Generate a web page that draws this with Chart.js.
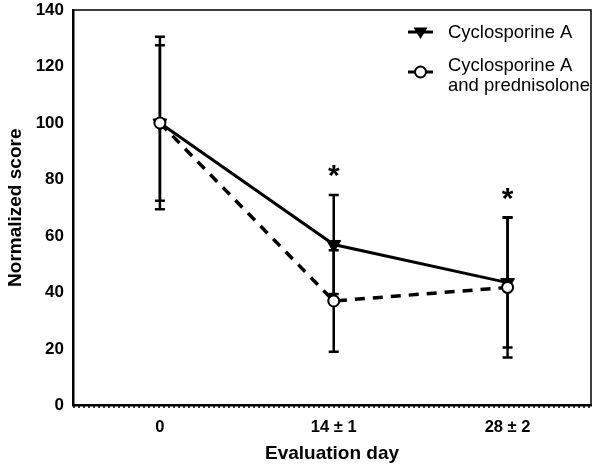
<!DOCTYPE html>
<html><head><meta charset="utf-8">
<script src="https://cdn.jsdelivr.net/npm/chart.js@4/dist/chart.umd.min.js"></script>
<style>html,body{margin:0;padding:0;background:#fff}#wrap{width:600px;height:469px}</style>
</head><body><div id="wrap"><canvas id="c" width="600" height="469"></canvas></div>
<script>
const categories = ["0", "14 \u00b1 1", "28 \u00b1 2"];
const seriesNames = ["Cyclosporine A", "Cyclosporine A|and prednisolone"];
const csaMean = [100, 57, 43.5];
const csaSD = [30.5, 17.5, 23];
const csaPredMean = [100, 37, 41.8];
const csaPredSD = [27.5, 18, 24.8];
const significant = [false, true, true];
const yTicks = [0, 20, 40, 60, 80, 100, 120, 140];

const F = "'Liberation Sans', Arial, Helvetica, sans-serif";

const errorPlugin = {
  id: 'errs',
  beforeDatasetsDraw(chart) {
    const ctx = chart.ctx, xs = chart.scales.x, ys = chart.scales.y;
    ctx.save();
    ctx.strokeStyle = '#000'; ctx.lineWidth = 2.5;
    chart.data.datasets.forEach(ds => {
      ds.data.forEach((p, i) => {
        const x = xs.getPixelForValue(p.x);
        const top = ys.getPixelForValue(p.y + ds.sd[i]);
        const bot = ys.getPixelForValue(p.y - ds.sd[i]);
        ctx.beginPath();
        ctx.moveTo(x, top); ctx.lineTo(x, bot);
        ctx.moveTo(x - 5, top); ctx.lineTo(x + 5, top);
        ctx.moveTo(x - 5, bot); ctx.lineTo(x + 5, bot);
        ctx.stroke();
      });
    });
    ctx.restore();
  },
  afterDatasetsDraw(chart) {
    const ctx = chart.ctx, xs = chart.scales.x, ys = chart.scales.y, a = chart.chartArea;
    ctx.save();
    ctx.strokeStyle = '#000'; ctx.lineWidth = 1.5;
    ctx.beginPath();
    ctx.moveTo(a.left, a.top); ctx.lineTo(a.right, a.top); ctx.lineTo(a.right, a.bottom);
    ctx.stroke();
    ctx.lineWidth = 1.5; ctx.setLineDash([2, 3]);
    ctx.beginPath();
    ctx.moveTo(a.left, a.bottom + 1.5); ctx.lineTo(a.right, a.bottom + 1.5);
    ctx.stroke();
    ctx.setLineDash([]);
    ctx.fillStyle = '#000';
    ctx.font = "bold 30px " + F;
    ctx.textAlign = 'center'; ctx.textBaseline = 'middle';
    significant.forEach((s, i) => {
      if (!s) return;
      const top = Math.max(csaMean[i] + csaSD[i], csaPredMean[i] + csaPredSD[i]);
      ctx.fillText('*', xs.getPixelForValue(i), ys.getPixelForValue(top) - 18);
    });
    ctx.font = "18.5px " + F;
    ctx.textAlign = 'left';
    const lx = 408, tx = 448;
    const rows = [{y: 32, lines: [31.5]}, {y: 72, lines: [65, 85]}];
    chart.data.datasets.forEach((ds, k) => {
      const r = rows[k];
      ctx.strokeStyle = '#000'; ctx.lineWidth = 3;
      ctx.beginPath(); ctx.moveTo(lx, r.y); ctx.lineTo(lx + 25, r.y); ctx.stroke();
      const cx = lx + 12.5;
      ctx.beginPath();
      if (k === 0) {
        ctx.moveTo(cx - 7, r.y - 4.5); ctx.lineTo(cx + 7, r.y - 4.5); ctx.lineTo(cx, r.y + 7); ctx.closePath();
        ctx.fillStyle = '#000'; ctx.fill();
      } else {
        ctx.arc(cx, r.y, 5.5, 0, Math.PI * 2);
        ctx.fillStyle = '#fff'; ctx.fill(); ctx.lineWidth = 2; ctx.stroke();
      }
      ctx.fillStyle = '#000';
      ds.label.split('|').forEach((t, j) => ctx.fillText(t, tx, r.lines[j] + 1));
    });
    ctx.restore();
  }
};

new Chart(document.getElementById('c'), {
  type: 'line',
  data: {
    datasets: [
      {
        label: seriesNames[0],
        data: csaMean.map((v, i) => ({x: i, y: v})),
        sd: csaSD,
        borderColor: '#000', borderWidth: 3, backgroundColor: '#000',
        pointStyle: 'triangle', rotation: 180, pointRadius: 8,
        pointBackgroundColor: '#000', pointBorderColor: '#000', pointBorderWidth: 1,
        tension: 0, order: 2
      },
      {
        label: seriesNames[1],
        data: csaPredMean.map((v, i) => ({x: i, y: v})),
        sd: csaPredSD,
        borderColor: '#000', borderWidth: 3.5, borderDash: [10, 8],
        pointStyle: 'circle', pointRadius: 5.5,
        pointBackgroundColor: '#fff', pointBorderColor: '#000', pointBorderWidth: 2,
        tension: 0, order: 1
      }
    ]
  },
  options: {
    responsive: false, animation: false, events: [],
    layout: {padding: {top: 10, right: 2, left: 0, bottom: 0}},
    plugins: {legend: {display: false}, tooltip: {enabled: false}},
    scales: {
      x: {
        type: 'linear', min: -0.5, max: 2.48,
        afterBuildTicks(s) { s.ticks = categories.map((c, i) => ({value: i})); },
        afterFit(s) { s.height = 63.5; s.paddingLeft = 0; s.paddingRight = 0; },
        ticks: {
          callback: (v) => categories[v],
          color: '#000', font: {family: F, size: 16.5, weight: 'bold'}, padding: 5, autoSkip: false, maxRotation: 0
        },
        grid: {display: false, drawOnChartArea: false, drawTicks: true, tickLength: 7, tickColor: '#000', tickWidth: 2},
        border: {display: true, color: '#000', width: 2.5},
        title: {display: true, text: 'Evaluation day', color: '#000', font: {family: F, size: 19, weight: 'bold'}, padding: {top: 4}}
      },
      y: {
        min: 0, max: 140,
        afterBuildTicks(s) { s.ticks = yTicks.map(v => ({value: v})); },
        afterFit(s) { s.width = 73; s.paddingTop = 0; s.paddingBottom = 0; },
        ticks: {color: '#000', font: {family: F, size: 17, weight: 'bold'}, padding: 4},
        grid: {display: false, drawOnChartArea: false, drawTicks: true, tickLength: 5, tickColor: '#000', tickWidth: 2},
        border: {display: true, color: '#000', width: 2.5},
        title: {display: true, text: 'Normalized score', color: '#000', font: {family: F, size: 19, weight: 'bold'}, padding: {bottom: 4}}
      }
    }
  },
  plugins: [errorPlugin]
});
</script></body></html>
